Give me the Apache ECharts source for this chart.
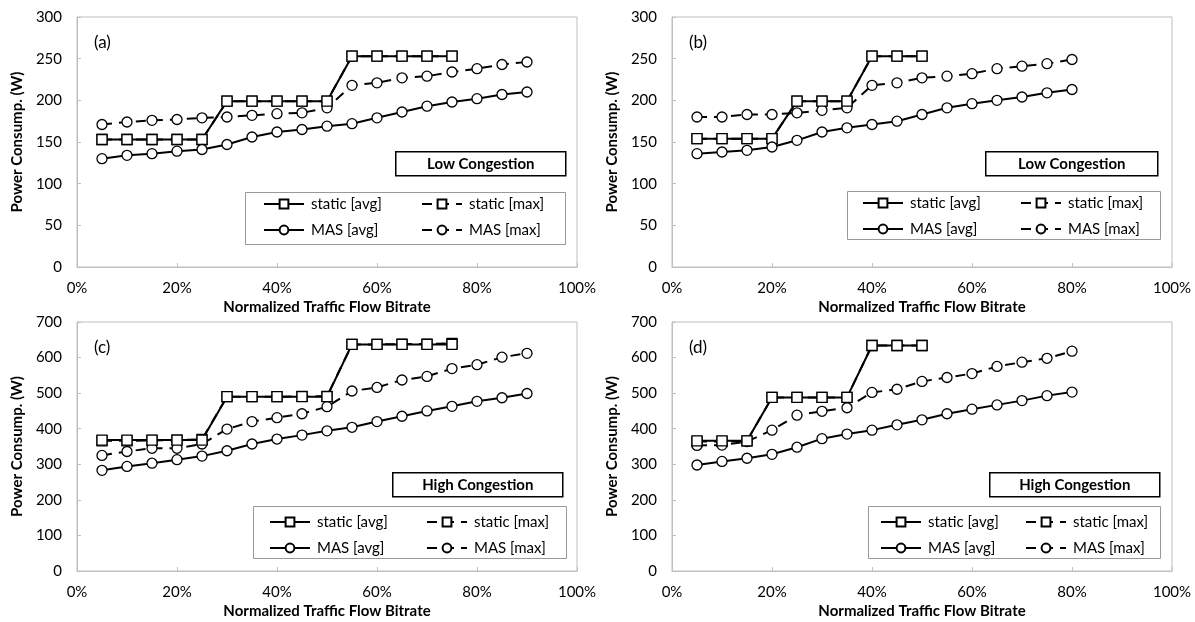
<!DOCTYPE html>
<html>
<head>
<meta charset="utf-8">
<script src="https://cdn.jsdelivr.net/npm/echarts@6/dist/echarts.min.js"></script>
<style>
  html, body { margin: 0; padding: 0; background: #fff; }
  #chart { width: 1195px; height: 622px; }
</style>
</head>
<body>
<div id="chart"></div>
<script>
// x positions (normalized traffic flow bitrate, %)
const xLong = [5, 10, 15, 20, 25, 30, 35, 40, 45, 50, 55, 60, 65, 70, 75, 80, 85, 90];
const xMid = [5, 10, 15, 20, 25, 30, 35, 40, 45, 50, 55, 60, 65, 70, 75, 80];
const xStaticLong = [5, 10, 15, 20, 25, 30, 35, 40, 45, 50, 55, 60, 65, 70, 75];
const xStaticShort = [5, 10, 15, 20, 25, 30, 35, 40, 45, 50];

const xTicks = [0, 20, 40, 60, 80, 100];
const seriesNames = ["static [avg]", "static [max]", "MAS [avg]", "MAS [max]"];

// (a) low congestion
const aStaticAvg = [153, 153, 153, 153, 153, 199, 199, 199, 199, 199, 253, 253, 253, 253, 253];
const aStaticMax = [153, 153, 153, 153, 153, 199, 199, 199, 199, 199, 253, 253, 253, 253, 253];
const aMasAvg = [130, 134, 136, 139, 141, 147, 156, 162, 165, 169, 172, 179, 186, 193, 198, 202, 207, 210];
const aMasMax = [171, 174, 176, 177, 179, 180, 182, 184, 185, 191, 218, 221, 227, 229, 234, 238, 243, 246];

// (b) low congestion
const bStaticAvg = [154, 154, 154, 154, 199, 199, 199, 253, 253, 253];
const bStaticMax = [154, 154, 154, 154, 199, 199, 199, 253, 253, 253];
const bMasAvg = [136, 138, 140, 144, 152, 162, 167, 171, 175, 183, 191, 196, 200, 204, 209, 213];
const bMasMax = [180, 180, 183, 183, 185, 188, 191, 218, 221, 227, 229, 232, 238, 241, 244, 249];

// (c) high congestion
const cStaticAvg = [368, 368, 368, 368, 368, 490, 490, 490, 490, 490, 637, 637, 637, 637, 637];
const cStaticMax = [366, 366, 367, 368, 370, 490, 490, 490, 491, 491, 637, 637, 638, 638, 640];
const cMasAvg = [283, 294, 303, 313, 323, 338, 357, 371, 382, 394, 404, 420, 435, 450, 463, 477, 487, 499];
const cMasMax = [325, 336, 345, 345, 357, 399, 420, 431, 442, 462, 506, 516, 537, 547, 569, 580, 601, 612];

// (d) high congestion
const dStaticAvg = [366, 366, 366, 488, 488, 488, 488, 634, 634, 634];
const dStaticMax = [364, 364, 366, 488, 488, 488, 488, 634, 634, 634];
const dMasAvg = [298, 308, 317, 328, 348, 372, 385, 396, 411, 425, 442, 455, 467, 479, 493, 503];
const dMasMax = [353, 354, 364, 396, 438, 449, 459, 502, 511, 533, 544, 555, 575, 587, 598, 618];

const FONT = "Lato, 'Open Sans', sans-serif";

function pairs(xs, ys) {
  return xs.map((x, i) => [x, ys[i]]);
}

// panel layout (pixels)
const panels = [
  { tag: "(a)", note: "Low Congestion", left: 77, top: 17, height: 250, yMax: 300, yStep: 50,
    xs: xLong, xsS: xStaticLong, sa: aStaticAvg, sm: aStaticMax, ma: aMasAvg, mm: aMasMax,
    leg: [263, 421, 196], box: [245, 192, 320, 52], noteBox: [395, 151, 170, 24] },
  { tag: "(b)", note: "Low Congestion", left: 672, top: 17, height: 250, yMax: 300, yStep: 50,
    xs: xMid, xsS: xStaticShort, sa: bStaticAvg, sm: bStaticMax, ma: bMasAvg, mm: bMasMax,
    leg: [862, 1020, 195], box: [847, 191, 313, 48], noteBox: [985, 151, 172, 24] },
  { tag: "(c)", note: "High Congestion", left: 77, top: 322, height: 249, yMax: 700, yStep: 100,
    xs: xLong, xsS: xStaticLong, sa: cStaticAvg, sm: cStaticMax, ma: cMasAvg, mm: cMasMax,
    leg: [269, 426, 514], box: [253, 506, 313, 52], noteBox: [392, 472, 170, 24] },
  { tag: "(d)", note: "High Congestion", left: 672, top: 322, height: 249, yMax: 700, yStep: 100,
    xs: xMid, xsS: xStaticShort, sa: dStaticAvg, sm: dStaticMax, ma: dMasAvg, mm: dMasMax,
    leg: [880, 1025, 514], box: [868, 506, 292, 52], noteBox: [989, 472, 170, 24] }
];

const grid = [], xAxis = [], yAxis = [], series = [], legend = [], graphic = [];

panels.forEach((p, i) => {
  grid.push({
    left: p.left, top: p.top, width: 500, height: p.height,
    show: true, borderColor: "#bfbfbf", borderWidth: 1, containLabel: false
  });
  xAxis.push({
    gridIndex: i, type: "value", min: 0, max: 100, interval: 20,
    name: "Normalized Traffic Flow Bitrate", nameLocation: "middle", nameGap: 33,
    nameTextStyle: { fontFamily: FONT, fontSize: 15, fontWeight: "bold", color: "#000" },
    axisLine: { show: true, lineStyle: { color: "#bfbfbf", width: 1 } },
    axisTick: { show: true, inside: true, length: 4, lineStyle: { color: "#bfbfbf" } },
    axisLabel: { fontFamily: FONT, fontSize: 15, color: "#000", margin: 14, formatter: "{value}%" },
    splitLine: { show: false }
  });
  yAxis.push({
    gridIndex: i, type: "value", min: 0, max: p.yMax, interval: p.yStep,
    name: "Power Consump. (W)", nameLocation: "middle", nameGap: 52,
    nameTextStyle: { fontFamily: FONT, fontSize: 15, fontWeight: "bold", color: "#000" },
    axisLine: { show: true, lineStyle: { color: "#bfbfbf", width: 1 } },
    axisTick: { show: true, inside: true, length: 4, lineStyle: { color: "#bfbfbf" } },
    axisLabel: { fontFamily: FONT, fontSize: 15, color: "#000", margin: 15 },
    splitLine: { show: false }
  });

  const defs = [
    { name: seriesNames[1], xs: p.xsS, ys: p.sm, symbol: "rect", dash: [10, 7], z: 2 },
    { name: seriesNames[0], xs: p.xsS, ys: p.sa, symbol: "rect", dash: "solid", z: 3 },
    { name: seriesNames[3], xs: p.xs, ys: p.mm, symbol: "circle", dash: [10, 7], z: 2 },
    { name: seriesNames[2], xs: p.xs, ys: p.ma, symbol: "circle", dash: "solid", z: 3 }
  ];
  defs.forEach(d => {
    series.push({
      name: d.name, type: "line", xAxisIndex: i, yAxisIndex: i, z: d.z,
      data: pairs(d.xs, d.ys),
      symbol: d.symbol, symbolSize: 10, showAllSymbol: true,
      lineStyle: { color: "#000", width: 2, type: d.dash },
      itemStyle: { color: "#fff", borderColor: "#000", borderWidth: 1.3 },
      emphasis: { disabled: true },
      animation: false
    });
  });

  // legend: two columns
  [[seriesNames[0], seriesNames[2]], [seriesNames[1], seriesNames[3]]].forEach((names, c) => {
    legend.push({
      data: names, orient: "vertical", left: p.leg[c], top: p.leg[2],
      padding: 0, itemGap: 10, itemWidth: 40, itemHeight: 11,
      textStyle: { fontFamily: FONT, fontSize: 15, color: "#000", lineHeight: 16, padding: [0, 0, 0, 2] },
      selectedMode: false
    });
  });

  graphic.push({
    type: "rect", left: p.box[0], top: p.box[1], z: 0, silent: true,
    shape: { width: p.box[2], height: p.box[3] },
    style: { fill: "#fff", stroke: "#999", lineWidth: 1 }
  });
  graphic.push({
    type: "group", left: p.noteBox[0], top: p.noteBox[1], silent: true,
    children: [
      { type: "rect", shape: { width: p.noteBox[2], height: p.noteBox[3] },
        style: { fill: "#fff", stroke: "#000", lineWidth: 1.5 } },
      { type: "text", x: p.noteBox[2] / 2, y: p.noteBox[3] / 2,
        style: { text: p.note, fontFamily: FONT, fontSize: 15, fontWeight: "bold",
                 fill: "#000", align: "center", verticalAlign: "middle" } }
    ]
  });
  graphic.push({
    type: "text", left: p.left + 17, top: p.top + 17, silent: true,
    style: { text: p.tag, fontFamily: FONT, fontSize: 17, fill: "#000" }
  });
});

const chart = echarts.init(document.getElementById("chart"), null, { renderer: "canvas" });
chart.setOption({
  backgroundColor: "#fff",
  animation: false,
  grid: grid,
  xAxis: xAxis,
  yAxis: yAxis,
  legend: legend,
  graphic: graphic,
  series: series
});
</script>
</body>
</html>
